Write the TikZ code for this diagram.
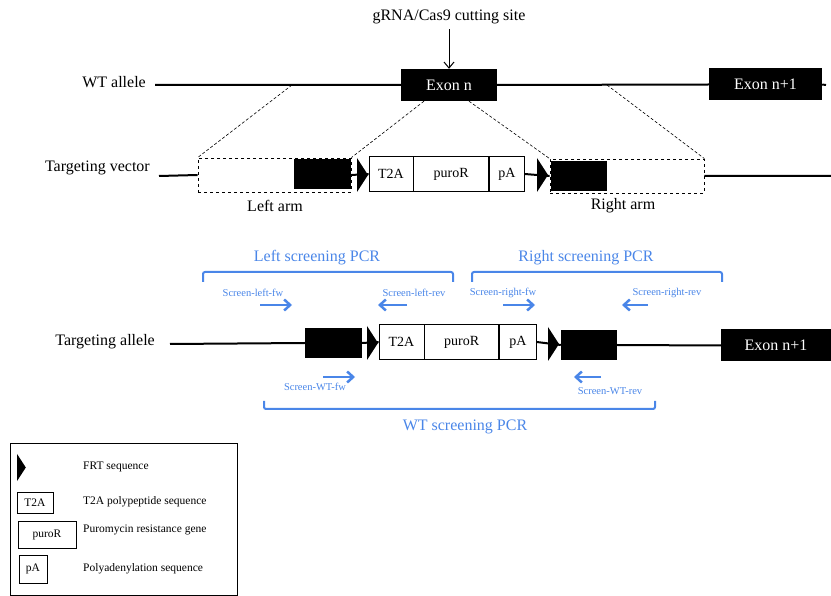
\documentclass[tikz,border=0pt]{standalone}
\usepackage{fontspec}
\setmainfont{Liberation Serif}
\usepackage{xcolor}
\usepackage{tikz}
\usetikzlibrary{arrows.meta, positioning, calc}
\definecolor{pcrblue}{RGB}{74,134,232}

\begin{document}
\begin{tikzpicture}[
      x=1pt, y=-1pt,
      lbl/.style={font=\fontsize{16}{19}\selectfont, inner sep=0},
      exon/.style={fill=black, text=white, minimum height=32, inner sep=0, font=\fontsize{16}{19}\selectfont},
      arm/.style={draw, dashed, line width=0.8, minimum height=34, inner sep=0},
      homol/.style={fill=black, minimum height=30, inner sep=0},
      part/.style={draw, fill=white, line width=0.7, minimum height=35, inner sep=0, font=\fontsize{14}{17}\selectfont},
      dna/.style={line width=2},
      zoomline/.style={densely dashed, line width=0.6},
      pcr/.style={pcrblue, line width=2, rounded corners=2},
      primer/.style={pcrblue, line width=2.5, -{Straight Barb[length=6pt, width=11pt]}},
      pcrlbl/.style={text=pcrblue, font=\fontsize{16}{19}\selectfont, inner sep=0},
      primerlbl/.style={text=pcrblue, font=\fontsize{10.5}{12}\selectfont, inner sep=0},
      legtxt/.style={font=\fontsize{11.5}{13}\selectfont, anchor=west, inner sep=0},
      legpart/.style={draw, line width=0.8, inner sep=0, font=\fontsize{11.5}{13}\selectfont},
      frt/.pic={\fill (0,-17) -- (11,0) -- (0,17) -- cycle;}
    ]
      \useasboundingbox (0,0) rectangle (831,596);

      % WT allele
      \node[lbl] (cut) at (449,17) {gRNA/Cas9 cutting site};
      \node[exon, minimum width=96] (exn) at (449,85) {Exon n};
      \node[exon, minimum width=113] (exn1) at (765.5,84.5) {Exon n+1};
      \node[lbl, anchor=east] (wt) at (146,82) {WT allele};
      \coordinate (wtL) at (155,85);
      \coordinate (wtR) at (826,85);
      \draw[dna] (wtL) -- (exn.west) (exn.east) -- (exn1.west) (exn1.east) -- (wtR);
      \draw[line width=1, -{Straight Barb[length=6pt, width=10pt]}, shorten <=5pt] (cut.south) -- (exn.north);

      % targeting vector
      \node[lbl, anchor=east] (tv) at (150,168) {Targeting vector};
      \node[arm, minimum width=153] (larm) at (274.5,175) {};
      \node[homol, minimum width=57] (lhom) at (322.5,174.5) {};
      \node[arm, minimum width=154] (rarm) at (627,176) {};
      \node[homol, minimum width=56] (rhom) at (579,176) {};
      \node[part, minimum width=44] (t2a) at (391,174) {T2A};
      \node[part, minimum width=75, right=0pt of t2a] (puro) {puroR};
      \node[part, minimum width=35, right=0pt of puro] (pa) {pA};
      \coordinate (tvL) at (159,176);
      \coordinate (tvR) at (831,176);
      \draw[dna] (tvL) -- (larm.west) (larm.east) -- (t2a.west) (pa.east) -- (rarm.west) (rarm.east) -- (tvR);
      \pic at (357,175) {frt};
      \pic at (537,175) {frt};
      \node[lbl] (larmlbl) at (275,206) {Left arm};
      \node[lbl] (rarmlbl) at (623,206) {Right arm};

      \coordinate (zl) at (292,85);
      \coordinate (zr) at (607,85);
      \draw[zoomline] (zl) -- (larm.north west);
      \draw[zoomline] ([xshift=-25pt]exn.south) -- (larm.north east);
      \draw[zoomline] ([xshift=20pt]exn.south) -- (rarm.north west);
      \draw[zoomline] (zr) -- (rarm.north east);

      % screening PCR
      \draw[pcr] (203,282) -- (203,272) -- (453,272) -- (453,282);
      \node[pcrlbl] (lpcr) at (317,258) {Left screening PCR};
      \draw[pcr] (472,282) -- (472,272) -- (722,272) -- (722,282);
      \node[pcrlbl] (rpcr) at (586,258) {Right screening PCR};
      \draw[pcr] (264,401) -- (264,409) -- (655,409) -- (655,401);
      \node[pcrlbl] (wtpcr) at (465,427) {WT screening PCR};

      \node[primerlbl] (lfw) at (253,293) {Screen-left-fw};
      \node[primerlbl] (lrev) at (414,293) {Screen-left-rev};
      \node[primerlbl] (rfw) at (503,293) {Screen-right-fw};
      \node[primerlbl] (rrev) at (667,293) {Screen-right-rev};
      \node[primerlbl] (wtfw) at (315,387) {Screen-WT-fw};
      \node[primerlbl] (wtrev) at (610,391) {Screen-WT-rev};
      \draw[primer] (260,305) -- (292,305);
      \draw[primer] (407,305) -- (378,305);
      \draw[primer] (503,305) -- (535,305);
      \draw[primer] (648,305) -- (622,305);
      \draw[primer] (323,377) -- (355,377);
      \draw[primer] (601,377) -- (574,377);

      % targeting allele
      \node[lbl, anchor=east] (ta) at (155,342) {Targeting allele};
      \node[homol, minimum width=57] (ahl) at (333.5,343) {};
      \node[part, minimum width=45] (at2a) at (401.5,342) {T2A};
      \node[part, minimum width=74, right=0pt of at2a] (apuro) {puroR};
      \node[part, minimum width=37, right=0pt of apuro] (apa) {pA};
      \node[homol, minimum width=56] (ahr) at (589,345) {};
      \node[exon, minimum width=110] (aexn1) at (776,345.5) {Exon n+1};
      \coordinate (taL) at (170,344);
      \draw[dna] (taL) -- (ahl.west) (ahl.east) -- (at2a.west) (apa.east) -- (ahr.west) (ahr.east) -- (aexn1.west);
      \pic at (367,343) {frt};
      \pic at (548,344) {frt};

      % legend
      \draw[line width=0.8] (10,443) rectangle (237,595);
      \pic[scale=0.8] at (17,467.5) {frt};
      \node[legpart, minimum width=36, minimum height=21] (lt2a) at (35,502.5) {T2A};
      \node[legpart, minimum width=58, minimum height=27] (lpuro) at (47,534.5) {puroR};
      \node[legpart, minimum width=28, minimum height=28] (lpa) at (33,569) {pA};
      \node[legtxt] (lfrttxt) at (83,467) {FRT sequence};
      \node[legtxt] (lt2atxt) at (83,502) {T2A polypeptide sequence};
      \node[legtxt] (lpurotxt) at (83,530) {Puromycin resistance gene};
      \node[legtxt] (lpatxt) at (83,569) {Polyadenylation sequence};
    \end{tikzpicture}
\end{document}
